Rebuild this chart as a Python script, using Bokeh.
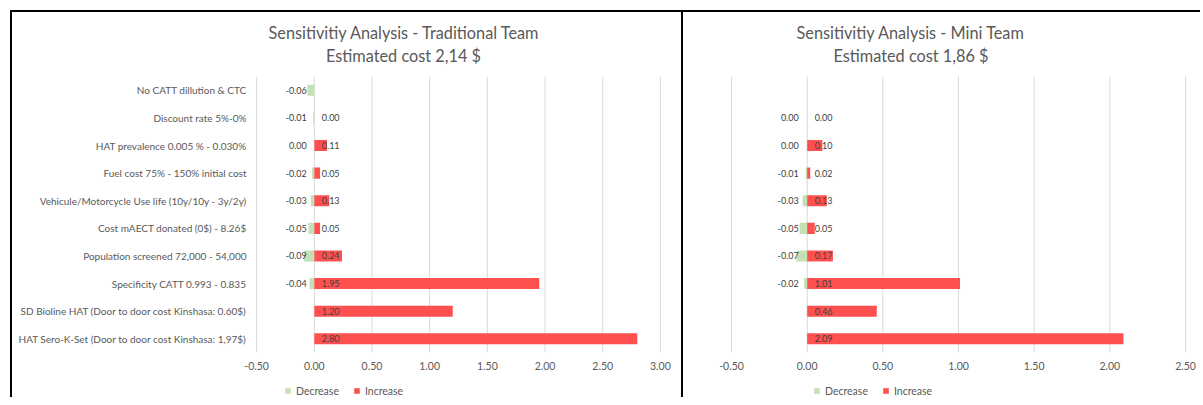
from bokeh.plotting import figure
from bokeh.layouts import row
from bokeh.models import (ColumnDataSource, Range1d, Legend, Title,
                          LegendItem, FixedTicker, NumeralTickFormatter)
from bokeh.core.properties import value
from bokeh.embed import file_html
from bokeh.resources import INLINE

categories = [
    "No CATT dillution & CTC",
    "Discount rate 5%-0%",
    "HAT prevalence 0.005 % - 0.030%",
    "Fuel cost 75% - 150% initial cost",
    "Vehicule/Motorcycle Use life (10y/10y - 3y/2y)",
    "Cost mAECT donated (0$) - 8.26$",
    "Population screened 72,000 - 54,000",
    "Specificity CATT 0.993 - 0.835",
    "SD Bioline HAT (Door to door cost Kinshasa: 0.60$)",
    "HAT Sero-K-Set (Door to door cost Kinshasa: 1,97$)",
]
trad_decrease = [-0.06, -0.01, 0.00, -0.02, -0.03, -0.05, -0.09, -0.04, None, None]
trad_increase = [None, 0.00, 0.11, 0.05, 0.13, 0.05, 0.24, 1.95, 1.20, 2.80]
mini_decrease = [None, 0.00, 0.00, -0.01, -0.03, -0.05, -0.07, -0.02, None, None]
mini_increase = [None, 0.00, 0.10, 0.02, 0.13, 0.05, 0.17, 1.01, 0.46, 2.09]
trad_ticks = [-0.5, 0.0, 0.5, 1.0, 1.5, 2.0, 2.5, 3.0]
mini_ticks = [-0.5, 0.0, 0.5, 1.0, 1.5, 2.0, 2.5]
trad_title = ["Sensitivitiy Analysis - Traditional Team", "Estimated cost 2,14 $"]
mini_title = ["Sensitivitiy Analysis - Mini Team", "Estimated cost 1,86 $"]
series_names = ["Decrease", "Increase"]

GREEN = "#C5E0B4"
RED = "#FF5050"
GREY = "#595959"
FONT = "Lato"

N = len(categories)
ROW_POS = [N - i for i in range(N)]          # top row -> N, bottom row -> 1
LOW = 0.5                                    # bottom edge of the category band
HIGH = N + 0.5                               # top edge of the category band


def make_panel(title, title_offsets, dec, inc, ticks, show_y, tick_span_px,
               pad_l, pad_r, mbl, mbr, legend_x, dec_off, inc_off, y_standoff, styles):
    scale = tick_span_px / (ticks[-1] - ticks[0])          # pixels per unit
    frame_w = int(round(tick_span_px + pad_l + pad_r))
    x0 = ticks[0] - pad_l / scale
    x1 = x0 + frame_w / scale
    # the frame reaches below the category band so the legend can sit inside it
    p = figure(frame_width=frame_w, frame_height=321, output_backend="svg",
               toolbar_location=None,
               y_range=Range1d(HIGH - 321 / 27.44, HIGH),
               x_range=Range1d(x0, x1),
               min_border_left=mbl, min_border_right=mbr,
               min_border_top=64, min_border_bottom=0,
               styles=styles)
    p.outline_line_color = None
    p.background_fill_color = "white"
    p.border_fill_color = "white"

    p.xgrid.visible = False
    p.ygrid.visible = False
    p.segment(x0=ticks, x1=ticks, y0=[LOW] * len(ticks), y1=[HIGH] * len(ticks),
              line_color="#D9D9D9", line_width=1)

    xa = p.xaxis[0]
    xa.ticker = FixedTicker(ticks=ticks)
    xa.formatter = NumeralTickFormatter(format="0.00")
    xa.fixed_location = LOW
    xa.axis_line_color = None
    xa.major_tick_line_color = None
    xa.minor_tick_line_color = None
    xa.major_tick_out = 0
    xa.major_tick_in = 0
    xa.major_label_standoff = 9
    xa.major_label_text_font = FONT
    xa.major_label_text_font_size = "10.5px"
    xa.major_label_text_color = GREY

    ya = p.yaxis[0]
    ya.ticker = FixedTicker(ticks=ROW_POS)
    ya.major_label_overrides = {pos: cat for pos, cat in zip(ROW_POS, categories)}
    ya.axis_line_color = None
    ya.major_tick_line_color = None
    ya.minor_tick_line_color = None
    ya.major_tick_out = 0
    ya.major_tick_in = 0
    ya.major_label_standoff = y_standoff
    ya.major_label_text_font = FONT
    ya.major_label_text_font_size = "10px"
    ya.major_label_text_color = GREY
    ya.visible = show_y

    d_y = [pos for pos, v in zip(ROW_POS, dec) if v is not None]
    d_val = [v for v in dec if v is not None]
    i_y = [pos for pos, v in zip(ROW_POS, inc) if v is not None]
    i_val = [v for v in inc if v is not None]

    dsrc = ColumnDataSource(dict(y=d_y, right=d_val, left=[0.0] * len(d_val),
                                 lab=["%.2f" % v for v in d_val]))
    isrc = ColumnDataSource(dict(y=i_y, right=i_val, left=[0.0] * len(i_val),
                                 lab=["%.2f" % v for v in i_val]))

    r_dec = p.hbar(y="y", left="left", right="right", height=0.4, source=dsrc,
                   fill_color=GREEN, line_color=None)
    r_inc = p.hbar(y="y", left="left", right="right", height=0.4, source=isrc,
                   fill_color=RED, line_color=None)

    p.text(x="left", y="y", text="lab", source=dsrc, x_offset=dec_off,
           text_align="right", text_baseline="middle", text_font=value(FONT),
           text_font_size="9px", text_color="#404040")
    p.text(x="left", y="y", text="lab", source=isrc, x_offset=inc_off,
           text_align="left", text_baseline="middle", text_font=value(FONT),
           text_font_size="9px", text_color="#404040")

    # title lines: the one added first sits closest to the plot area
    p.add_layout(Title(text=title[1], align="left", offset=title_offsets[1],
                       text_font=FONT, text_font_size="16.3px", text_color=GREY,
                       text_font_style="normal", standoff=24), "above")
    p.add_layout(Title(text=title[0], align="left", offset=title_offsets[0],
                       text_font=FONT, text_font_size="16.3px", text_color=GREY,
                       text_font_style="normal", standoff=-21), "above")

    legend = Legend(items=[LegendItem(label=series_names[0], renderers=[r_dec]),
                           LegendItem(label=series_names[1], renderers=[r_inc])],
                    orientation="horizontal", location=(legend_x, 2),
                    glyph_width=7, glyph_height=7, label_standoff=5, spacing=14,
                    padding=0, margin=0, label_height=13,
                    label_text_font=FONT, label_text_font_size="10.5px",
                    label_text_color=GREY, border_line_color=None,
                    background_fill_alpha=0)
    p.add_layout(legend)
    return p


p1 = make_panel(trad_title, (26, 83.5), trad_decrease, trad_increase, trad_ticks, True,
                400, 14, 13, 230, 12, 42, -7.5, 7.5, -4,
                {"position": "relative", "top": "10px", "left": "10px",
                 "border-top": "2px solid black", "border-left": "2px solid black",
                 "border-right": "2px solid black"})
p2 = make_panel(mini_title, (80, 117), mini_decrease, mini_increase, mini_ticks, False,
                454, 15, 13, 33, 2, 97, -8.5, 7.5, 10,
                {"position": "relative", "top": "10px", "left": "10px",
                 "border-top": "2px solid black"})

layout = row(p1, p2)
open("out.html", "w").write(file_html(layout, INLINE))
